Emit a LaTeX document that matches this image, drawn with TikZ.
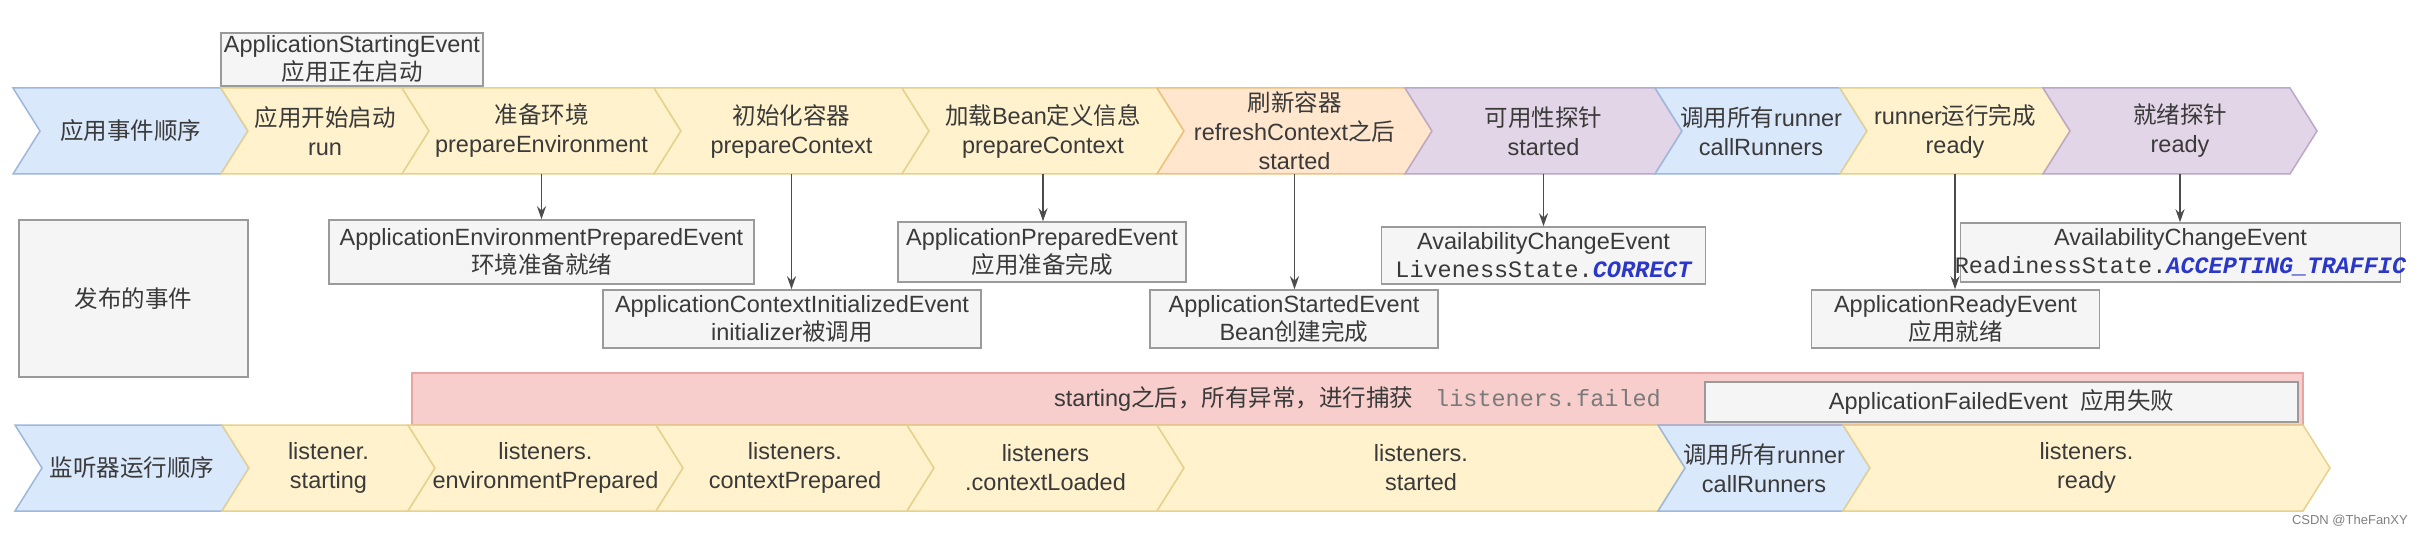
\documentclass[tikz,border=0pt]{standalone}
\usepackage{fontspec}
\setmainfont{Liberation Sans}
\setmonofont{Liberation Mono}
\newfontfamily\cjk{Noto Sans CJK SC}
\usetikzlibrary{arrows.meta}
\newcommand\zh[1]{{\cjk #1}}
\newcommand\dfont{\fontsize{23.5}{29}\selectfont}
\newcommand\bfontsz{\fontsize{23.5}{28}\selectfont}
\definecolor{bluefill}{HTML}{DAE8FC}
\definecolor{bluedraw}{HTML}{9DB7DD}
\definecolor{yelfill}{HTML}{FFF2CC}
\definecolor{yeldraw}{HTML}{E6D28E}
\definecolor{orafill}{HTML}{FFE6CC}
\definecolor{oradraw}{HTML}{EDC17E}
\definecolor{purfill}{HTML}{E1D5E7}
\definecolor{purdraw}{HTML}{BCA8C9}
\definecolor{grayfill}{HTML}{F5F5F5}
\definecolor{graydraw}{HTML}{9A9A9A}
\definecolor{redfill}{HTML}{F8CECC}
\definecolor{reddraw}{HTML}{E6A5A2}
\definecolor{txt}{HTML}{3A3A3A}
\definecolor{codeblue}{HTML}{2A37C8}
\definecolor{codegray}{HTML}{7A7A7A}
\tikzset{
  chevtext/.style={inner sep=0pt, minimum height=86pt, align=center, text=txt, font=\dfont},
  cb/.style={fill=bluefill, draw=bluedraw, line width=1.5pt},
  cy/.style={fill=yelfill, draw=yeldraw, line width=1.5pt},
  co/.style={fill=orafill, draw=oradraw, line width=1.5pt},
  cp/.style={fill=purfill, draw=purdraw, line width=1.5pt},
  evbox/.style={fill=grayfill, draw=graydraw, line width=1.5pt, inner sep=0pt},
  evtext/.style={inner sep=0pt, align=center, text=txt, font=\bfontsz},
  redbar/.style={fill=redfill, draw=reddraw, line width=1.5pt, inner sep=0pt},
  evarrow/.style={draw=black!70, line width=1.5pt, -{Stealth[length=13pt,width=9pt]}},
}
\newcommand\chev[7]{%
  \path[#6] (#2,#4) -- (#3,#4) -- ({#3+27},{(#4+#5)/2}) -- (#3,#5) -- (#2,#5) -- ({#2+27},{(#4+#5)/2}) -- cycle;
  \node[chevtext] (#1) at ({(#2+#3+27)/2},{(#4+#5)/2}) {#7};}
\begin{document}
\begin{tikzpicture}[x=1pt,y=-1pt]
\useasboundingbox (0,0) rectangle (2420,534);
\fill[white] (0,0) rectangle (2420,534);

% top row
\chev{t0}{13}{221}{88}{174}{cb}{\zh{应用事件顺序}}
\chev{t1}{221}{402}{88}{174}{cy}{\zh{应用开始启动}\\run}
\chev{t2}{402}{654}{88}{174}{cy}{\zh{准备环境}\\prepareEnvironment}
\chev{t3}{654}{902}{88}{174}{cy}{\zh{初始化容器}\\prepareContext}
\chev{t4}{902}{1157}{88}{174}{cy}{\zh{加载}Bean\zh{定义信息}\\prepareContext}
\chev{t5}{1157}{1405}{88}{174}{co}{\zh{刷新容器}\\refreshContext\zh{之后}\\started}
\chev{t6}{1405}{1655}{88}{174}{cp}{\zh{可用性探针}\\started}
\chev{t7}{1655}{1840}{88}{174}{cb}{\zh{调用所有}runner\\callRunners}
\chev{t8}{1840}{2043}{88}{174}{cy}{runner\zh{运行完成}\\ready}
\chev{t9}{2043}{2290}{88}{174}{cp}{\zh{就绪探针}\\ready}

% starting event box above run
\node[evbox, minimum width=262pt, minimum height=53pt] (ev0) at (352,59.5) {};
\node[evtext] (ev0t) at (ev0.center) {ApplicationStartingEvent\\\zh{应用正在启动}};

% left label
\node[evbox, minimum width=229pt, minimum height=157pt, text=txt, font=\dfont] (pub) at (133.5,298.5) {\zh{发布的事件}};

% event boxes
\node[evbox, minimum width=425pt, minimum height=64pt] (ev1) at (541.5,252) {};
\node[evtext] (ev1t) at (ev1.center) {ApplicationEnvironmentPreparedEvent\\\zh{环境准备就绪}};
\node[evbox, minimum width=378pt, minimum height=58pt] (ev2) at (792,319) {};
\node[evtext] (ev2t) at (ev2.center) {ApplicationContextInitializedEvent\\initializer\zh{被调用}};
\node[evbox, minimum width=288pt, minimum height=60pt] (ev3) at (1042,252) {};
\node[evtext] (ev3t) at (ev3.center) {ApplicationPreparedEvent\\\zh{应用准备完成}};
\node[evbox, minimum width=288pt, minimum height=58pt] (ev4) at (1294,319) {};
\node[evtext] (ev4t) at (ev4.center) {ApplicationStartedEvent\\Bean\zh{创建完成}};
\node[evbox, minimum width=324pt, minimum height=57pt] (ev5) at (1543.5,255.5) {};
\node[evtext] (ev5t) at (ev5.center) {AvailabilityChangeEvent\\{\ttfamily LivenessState.\textcolor{codeblue}{\bfseries\itshape CORRECT}}};
\node[evbox, minimum width=288pt, minimum height=58pt] (ev6) at (1955.5,319) {};
\node[evtext] (ev6t) at (ev6.center) {ApplicationReadyEvent\\\zh{应用就绪}};
\node[evbox, minimum width=440pt, minimum height=59pt] (ev7) at (2180.5,252.5) {};
\node[evtext] (ev7t) at (ev7.center) {AvailabilityChangeEvent\\{\ttfamily ReadinessState.\textcolor{codeblue}{\bfseries\itshape ACCEPTING\_TRAFFIC}}};

% arrows
\draw[evarrow] (t2.south) -- (t2.south |- ev1.north);
\draw[evarrow] (t3.south) -- (t3.south |- ev2.north);
\draw[evarrow] (t4.south) -- (t4.south |- ev3.north);
\draw[evarrow] (t5.south) -- (t5.south |- ev4.north);
\draw[evarrow] (t6.south) -- (t6.south |- ev5.north);
\draw[evarrow] (t8.south) -- (t8.south |- ev6.north);
\draw[evarrow] (t9.south) -- (t9.south |- ev7.north);

% failure bar
\node[redbar, minimum width=1891pt, minimum height=52pt] (fail) at (1357.5,399) {};
\node[evtext] (failt) at (fail.center) {starting\zh{之后，所有异常，进行捕获}\hspace{22pt}{\ttfamily\color{codegray}listeners.failed}};
\node[evbox, minimum width=593pt, minimum height=40pt] (failev) at (2001.5,402) {};
\node[evtext] (failevt) at (failev.center) {ApplicationFailedEvent\hspace{12pt}\zh{应用失败}};

% bottom row
\chev{b0}{15}{222}{425}{511}{cb}{\zh{监听器运行顺序}}
\chev{b1}{222}{408}{425}{511}{cy}{listener.\\starting}
\chev{b2}{408}{656}{425}{511}{cy}{listeners.\\environmentPrepared}
\chev{b3}{656}{907}{425}{511}{cy}{listeners.\\contextPrepared}
\chev{b4}{907}{1157}{425}{511}{cy}{listeners\\.contextLoaded}
\chev{b5}{1157}{1658}{425}{511}{cy}{listeners.\\started}
\chev{b6}{1658}{1843}{425}{511}{cb}{\zh{调用所有}runner\\callRunners}
\chev{b7}{1843}{2303}{425}{511}{cy}{listeners.\\ready}

% watermark
\node[anchor=east, inner sep=0pt, text=black!50, font=\fontsize{13}{15}\selectfont] (wm) at (2408,521) {CSDN @TheFanXY};
\end{tikzpicture}
\end{document}
